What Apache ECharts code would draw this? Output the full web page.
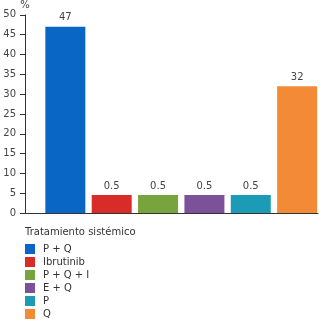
<!DOCTYPE html>
<html>
<head>
<meta charset="utf-8">
<script src="https://cdn.jsdelivr.net/npm/echarts@6/dist/echarts.min.js"></script>
<style>
  html, body { margin: 0; padding: 0; background: #fff; }
  #chart { width: 326px; height: 323px; }
</style>
</head>
<body>
<div id="chart"></div>
<script>
// Treatment groups and share of patients (%)
const categories = ['P + Q', 'Ibrutinib', 'P + Q + I', 'E + Q', 'P', 'Q'];
const values = [47, 0.5, 0.5, 0.5, 0.5, 32];
const colors = ['#0a66c4', '#d92b27', '#78a43e', '#7b5299', '#1b9bb5', '#f28a36'];
const legendTitle = 'Tratamiento sistémico';
const yTicks = { min: 0, max: 50, interval: 5 };

const font = 'DejaVu Sans';

const series = categories.map((name, i) => ({
  name: name,
  type: 'bar',
  barWidth: 40,
  barGap: '-100%',
  barMinHeight: 18,
  itemStyle: { color: colors[i] },
  label: {
    show: true,
    position: 'top',
    distance: 4,
    fontFamily: font,
    fontSize: 10,
    color: '#444'
  },
  data: [[i, values[i]]]
}));

const chart = echarts.init(document.getElementById('chart'), null, { renderer: 'canvas' });
chart.setOption({
  animation: false,
  grid: { left: 25, right: 8, top: 14, bottom: 110 },
  title: {
    text: legendTitle,
    left: 25,
    top: 227,
    padding: 0,
    textStyle: { fontFamily: font, fontSize: 10, fontWeight: 'normal', color: '#333' }
  },
  legend: {
    orient: 'vertical',
    left: 25,
    top: 244,
    padding: 0,
    height: 80,
    itemWidth: 10,
    itemHeight: 10,
    itemGap: 3,
    icon: 'rect',
    textStyle: { fontFamily: font, fontSize: 10, color: '#333', padding: [0, 0, 0, 3] },
    data: categories
  },
  xAxis: {
    type: 'value',
    min: -0.87,
    max: 5.45,
    axisLine: { show: true, onZero: false, lineStyle: { color: '#333', width: 1 } },
    axisTick: { show: false },
    axisLabel: { show: false },
    splitLine: { show: false }
  },
  yAxis: {
    type: 'value',
    min: yTicks.min,
    max: yTicks.max,
    interval: yTicks.interval,
    name: '%',
    nameGap: 3,
    nameTextStyle: { fontFamily: font, fontSize: 10, color: '#444' },
    axisLine: { show: true, onZero: false, lineStyle: { color: '#333', width: 1 } },
    axisTick: { show: true, length: 5, lineStyle: { color: '#333' } },
    axisLabel: { fontFamily: font, fontSize: 10, color: '#444', margin: 9 },
    splitLine: { show: false }
  },
  series: series
});
</script>
</body>
</html>
